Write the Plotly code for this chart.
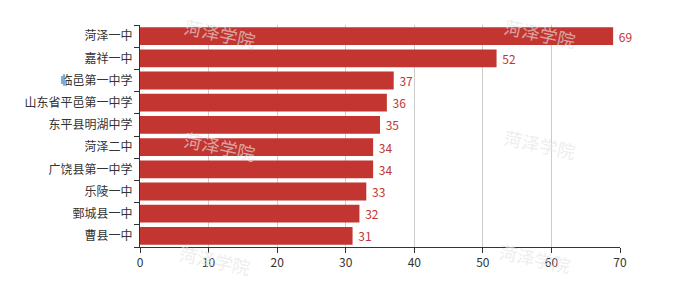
import plotly.graph_objects as go

schools = ["曹县一中", "鄄城县一中", "乐陵一中", "广饶县第一中学", "菏泽二中",
           "东平县明湖中学", "山东省平邑第一中学", "临邑第一中学", "嘉祥一中", "菏泽一中"]
counts = [31, 32, 33, 34, 34, 35, 36, 37, 52, 69]
x_ticks = [0, 10, 20, 30, 40, 50, 60, 70]

BAR = "#c23531"
FONT = "Noto Sans CJK SC"

fig = go.Figure(go.Bar(
    y=schools, x=counts, orientation="h",
    marker=dict(color=BAR, line=dict(width=0)),
    text=[" " + str(v) for v in counts], textposition="outside",
    textfont=dict(color=BAR, size=12, family=FONT),
    cliponaxis=False,
))

fig.update_layout(
    width=686, height=282,
    margin=dict(l=140, r=66, t=25, b=27),
    paper_bgcolor="white", plot_bgcolor="white",
    font=dict(family=FONT, size=12, color="#333"),
    bargap=0.2, showlegend=False,
    xaxis=dict(range=[0, 70], tickvals=x_ticks, showgrid=True, gridcolor="#ccc",
               gridwidth=1, zeroline=False, showline=True, linecolor="#333",
               linewidth=1, ticks="outside", ticklen=5, tickcolor="#333",
               tickfont=dict(size=12, color="#333")),
    yaxis=dict(showgrid=False, showline=True, linecolor="#333", linewidth=1,
               ticks="outside", ticklen=5, tickcolor="#333", tickson="boundaries",
               tickfont=dict(size=12, color="#333"), ticklabelstandoff=4),
)

# watermark centres in paper fractions of the plot area
wm_pos = [(0.167, 0.965), (0.833, 0.965), (0.167, 0.457), (0.833, 0.465),
          (0.156, -0.06), (0.823, -0.05)]
for (px, py) in wm_pos:
    fig.add_annotation(text="菏泽学院", xref="paper", yref="paper", x=px, y=py,
                       xanchor="center", yanchor="middle",
                       showarrow=False, textangle=12,
                       font=dict(family=FONT, size=18, color="rgba(228,228,228,0.65)"))

fig.write_html("out.html")
